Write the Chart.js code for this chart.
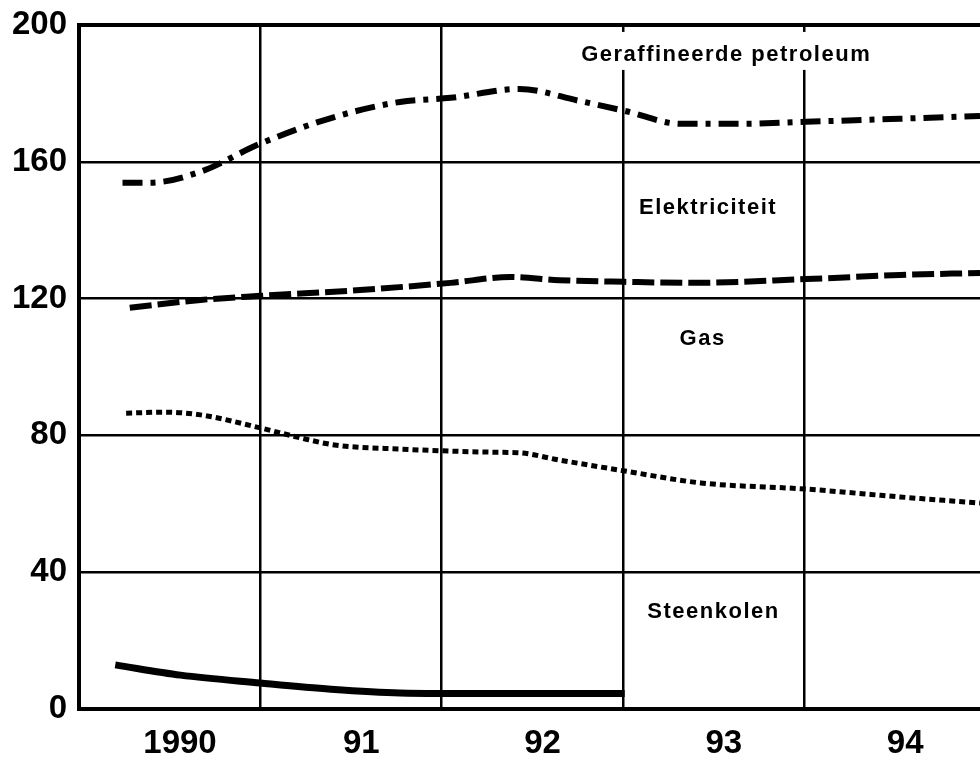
<!DOCTYPE html>
<html>
<head>
<meta charset="utf-8">
<script src="https://cdn.jsdelivr.net/npm/chart.js@4"></script>
<style>
  body { margin: 0; background: #fff; overflow: hidden; }
</style>
</head>
<body>
<canvas id="EnergyChart" width="980" height="761"></canvas>
<script>
// --- data ---
const yearTicks = [1990, 1991, 1992, 1993, 1994];
const yearLabels = ["1990", "91", "92", "93", "94"];
const valueTicks = [0, 40, 80, 120, 160, 200];

const petroleumYears = [1990.24, 1990.39, 1990.67, 1991.0, 1991.39, 1991.77, 1992.05, 1992.43, 1992.76, 1993.01, 1993.32, 1993.65, 1994.01, 1994.53, 1994.97];
const petroleumValues = [153.9, 153.9, 157.1, 165.3, 172.8, 177.5, 178.7, 181.3, 177.8, 174.9, 171.1, 171.1, 171.7, 172.6, 173.4];

const electricityYears = [1990.28, 1990.67, 1991.0, 1991.55, 1992.05, 1992.38, 1992.65, 1993.01, 1993.37, 1994.01, 1994.53, 1994.97];
const electricityValues = [117.3, 119.6, 120.8, 122.5, 124.6, 126.3, 125.4, 124.9, 124.6, 125.7, 126.9, 127.5];

const gasYears = [1990.26, 1990.47, 1990.67, 1991.0, 1991.22, 1991.41, 1991.77, 1992.27, 1992.43, 1992.65, 1993.01, 1993.43, 1994.01, 1994.53, 1994.97];
const gasValues = [86.5, 86.8, 86.0, 82.2, 79.3, 77.2, 76.0, 75.1, 74.9, 72.8, 69.6, 66.1, 64.3, 62.0, 60.2];

const coalYears = [1990.2, 1990.56, 1991.0, 1991.39, 1991.77, 1992.27, 1993.01];
const coalValues = [12.9, 9.9, 7.6, 5.8, 4.7, 4.5, 4.5];

// series names written inside the plot (year, value of the text baseline)
const seriesNames = [
  { text: "Geraffineerde petroleum", year: 1993.57, value: 189.5, box: true },
  { text: "Elektriciteit", year: 1993.47, value: 144.7 },
  { text: "Gas", year: 1993.44, value: 106.4 },
  { text: "Steenkolen", year: 1993.5, value: 26.6 },
];

const FONT = "'Liberation Sans', Arial, Helvetica, sans-serif";

function toPoints(xs, ys) {
  return xs.map((x, i) => ({ x: x, y: ys[i] }));
}

// labels in the chart, with a white box where they cut a grid line
const seriesNamePlugin = {
  id: "seriesNames",
  afterDraw(chart) {
    const ctx = chart.ctx;
    const xs = chart.scales.x;
    const ys = chart.scales.y;
    ctx.save();
    ctx.font = "bold 22px " + FONT;
    ctx.letterSpacing = "1.5px";
    ctx.textAlign = "center";
    ctx.textBaseline = "alphabetic";
    seriesNames.forEach((n) => {
      const px = xs.getPixelForValue(n.year);
      const py = ys.getPixelForValue(n.value);
      if (n.box) {
        const w = ctx.measureText(n.text).width;
        ctx.fillStyle = "#fff";
        ctx.fillRect(px - w / 2 - 12, py - 29, w + 24, 38);
      }
      ctx.fillStyle = "#000";
      ctx.fillText(n.text, px, py);
    });
    ctx.restore();
  },
};

const lineBase = {
  pointRadius: 0,
  borderColor: "#000",
  cubicInterpolationMode: "monotone",
  fill: false,
};

new Chart(document.getElementById("EnergyChart"), {
  type: "line",
  data: {
    datasets: [
      {
        ...lineBase,
        label: "Geraffineerde petroleum",
        data: toPoints(petroleumYears, petroleumValues),
        borderWidth: 6,
        borderDash: [20, 8, 5, 8],
      },
      {
        ...lineBase,
        label: "Elektriciteit",
        data: toPoints(electricityYears, electricityValues),
        borderWidth: 6,
        borderDash: [22, 6],
      },
      {
        ...lineBase,
        label: "Gas",
        data: toPoints(gasYears, gasValues),
        borderWidth: 5,
        borderDash: [6, 4],
      },
      {
        ...lineBase,
        label: "Steenkolen",
        data: toPoints(coalYears, coalValues),
        borderWidth: 7,
      },
    ],
  },
  options: {
    responsive: false,
    animation: false,
    layout: { padding: { top: 25, left: 0, right: 0, bottom: 0 } },
    plugins: {
      legend: { display: false },
      tooltip: { enabled: false },
    },
    scales: {
      x: {
        type: "linear",
        min: 1990,
        max: 1994.97,
        afterBuildTicks: (scale) => {
          scale.ticks = yearTicks.map((v) => ({ value: v }));
        },
        afterFit: (scale) => {
          scale.height = 52;
          scale.paddingRight = 0;
        },
        grid: { color: "#000", lineWidth: 2.5, drawTicks: false },
        border: { color: "#000", width: 4 },
        ticks: {
          color: "#000",
          padding: 15,
          labelOffset: 101,
          maxRotation: 0,
          font: { family: FONT, size: 33, weight: "bold" },
          callback: (v) => yearLabels[yearTicks.indexOf(v)],
        },
      },
      y: {
        min: 0,
        max: 200,
        afterBuildTicks: (scale) => {
          scale.ticks = valueTicks.map((v) => ({ value: v }));
        },
        afterFit: (scale) => {
          scale.width = 79;
          // the top label may stick out into the layout padding
          scale.paddingTop = 0;
          scale.paddingBottom = 0;
        },
        grid: {
          color: "#000",
          lineWidth: (c) => (c.tick && c.tick.value === 200 ? 4 : 2.5),
          drawTicks: false,
        },
        border: { color: "#000", width: 4 },
        ticks: {
          color: "#000",
          padding: 12,
          font: { family: FONT, size: 33, weight: "bold" },
        },
      },
    },
  },
  plugins: [seriesNamePlugin],
});
</script>
</body>
</html>
